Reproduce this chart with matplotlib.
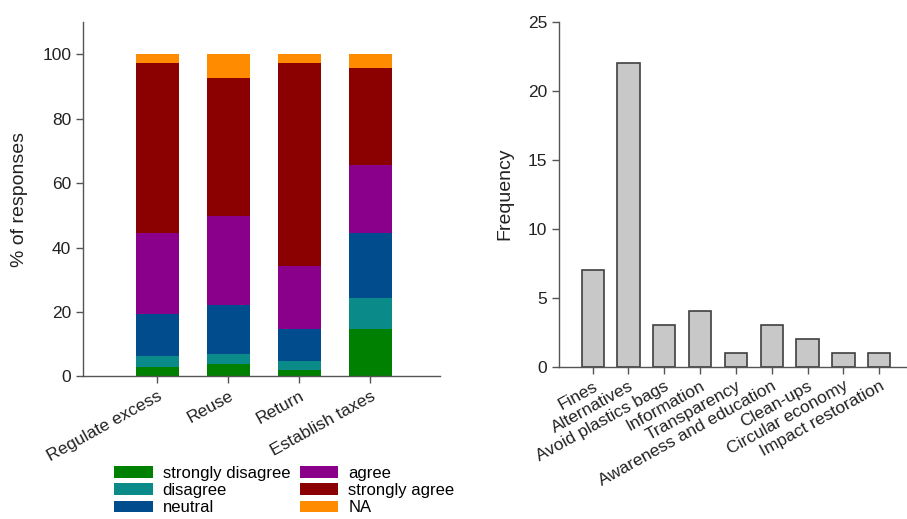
import matplotlib
matplotlib.use("Agg")
import matplotlib.pyplot as plt
import numpy as np

plt.rcParams['font.family'] = ['Liberation Sans', 'DejaVu Sans']

# Stacked response shares (%) per measure
measures = ["Regulate excess", "Reuse", "Return", "Establish taxes"]
levels = ["strongly disagree", "disagree", "neutral", "agree", "strongly agree", "NA"]
strongly_disagree = [2.9, 3.8, 2.1, 14.6]
disagree = [3.3, 3.2, 2.6, 9.8]
neutral = [13.2, 15.1, 9.9, 20.1]
agree = [25.1, 27.8, 19.7, 21.0]
strongly_agree = [52.6, 42.6, 63.0, 30.3]
na = [2.9, 7.5, 2.7, 4.2]
level_colors = ["#008000", "#0b8a8a", "#004c8c", "#8b008b", "#8b0000", "#ff8c00"]

# Frequency of suggested actions
actions = ["Fines", "Alternatives", "Avoid plastics bags", "Information", "Transparency",
           "Awareness and education", "Clean-ups", "Circular economy", "Impact restoration"]
frequency = [7, 22, 3, 4, 1, 3, 2, 1, 1]

fig = plt.figure(figsize=(9.07, 5.19), dpi=100)
ax1 = fig.add_axes([0.0915, 0.2746, 0.3935, 0.6834])
ax2 = fig.add_axes([0.6163, 0.2935, 0.3827, 0.6645])

spine_col = "#555555"

def style(ax):
    for s in ("top", "right"):
        ax.spines[s].set_visible(False)
    for s in ("left", "bottom"):
        ax.spines[s].set_color(spine_col)
        ax.spines[s].set_linewidth(1.0)
    ax.tick_params(colors=spine_col, labelcolor="#222222", labelsize=12.5,
                   length=5, width=1.0, direction="out")

# Left: stacked bars
x = np.arange(len(measures))
bottom = np.zeros(len(measures))
series = [strongly_disagree, disagree, neutral, agree, strongly_agree, na]
handles = []
for name, vals, col in zip(levels, series, level_colors):
    h = ax1.bar(x, vals, width=0.6, bottom=bottom, color=col, label=name, linewidth=0)
    handles.append(h)
    bottom += np.array(vals)
ax1.set_xlim(-1.05, 3.98)
ax1.set_ylim(0, 110)
ax1.set_yticks([0, 20, 40, 60, 80, 100])
ax1.set_xticks(x)
ax1.set_xticklabels(measures, rotation=29, ha="right", rotation_mode="anchor")
ax1.set_ylabel("% of responses", fontsize=14, color="#222222", labelpad=10)
style(ax1)

# Right: frequency bars
xa = np.arange(len(actions))
ax2.bar(xa, frequency, width=0.62, color="#c8c8c8", edgecolor="#404040", linewidth=1.2)
ax2.set_xlim(-0.94, 8.75)
ax2.set_ylim(0, 25)
ax2.set_yticks([0, 5, 10, 15, 20, 25])
ax2.set_xticks(xa)
ax2.set_xticklabels(actions, rotation=29, ha="right", rotation_mode="anchor")
ax2.set_ylabel("Frequency", fontsize=14, color="#222222", labelpad=10)
style(ax2)

# Legend below the left panel, filled column-wise
fig.legend(handles, levels, ncol=2,
           loc="upper left", bbox_to_anchor=(0.126, 0.103), frameon=False,
           fontsize=12, handlelength=2.3, handleheight=0.7, labelspacing=0.14,
           columnspacing=0.6, handletextpad=0.6, borderaxespad=0, borderpad=0)

fig.savefig("out.png", dpi=100)
